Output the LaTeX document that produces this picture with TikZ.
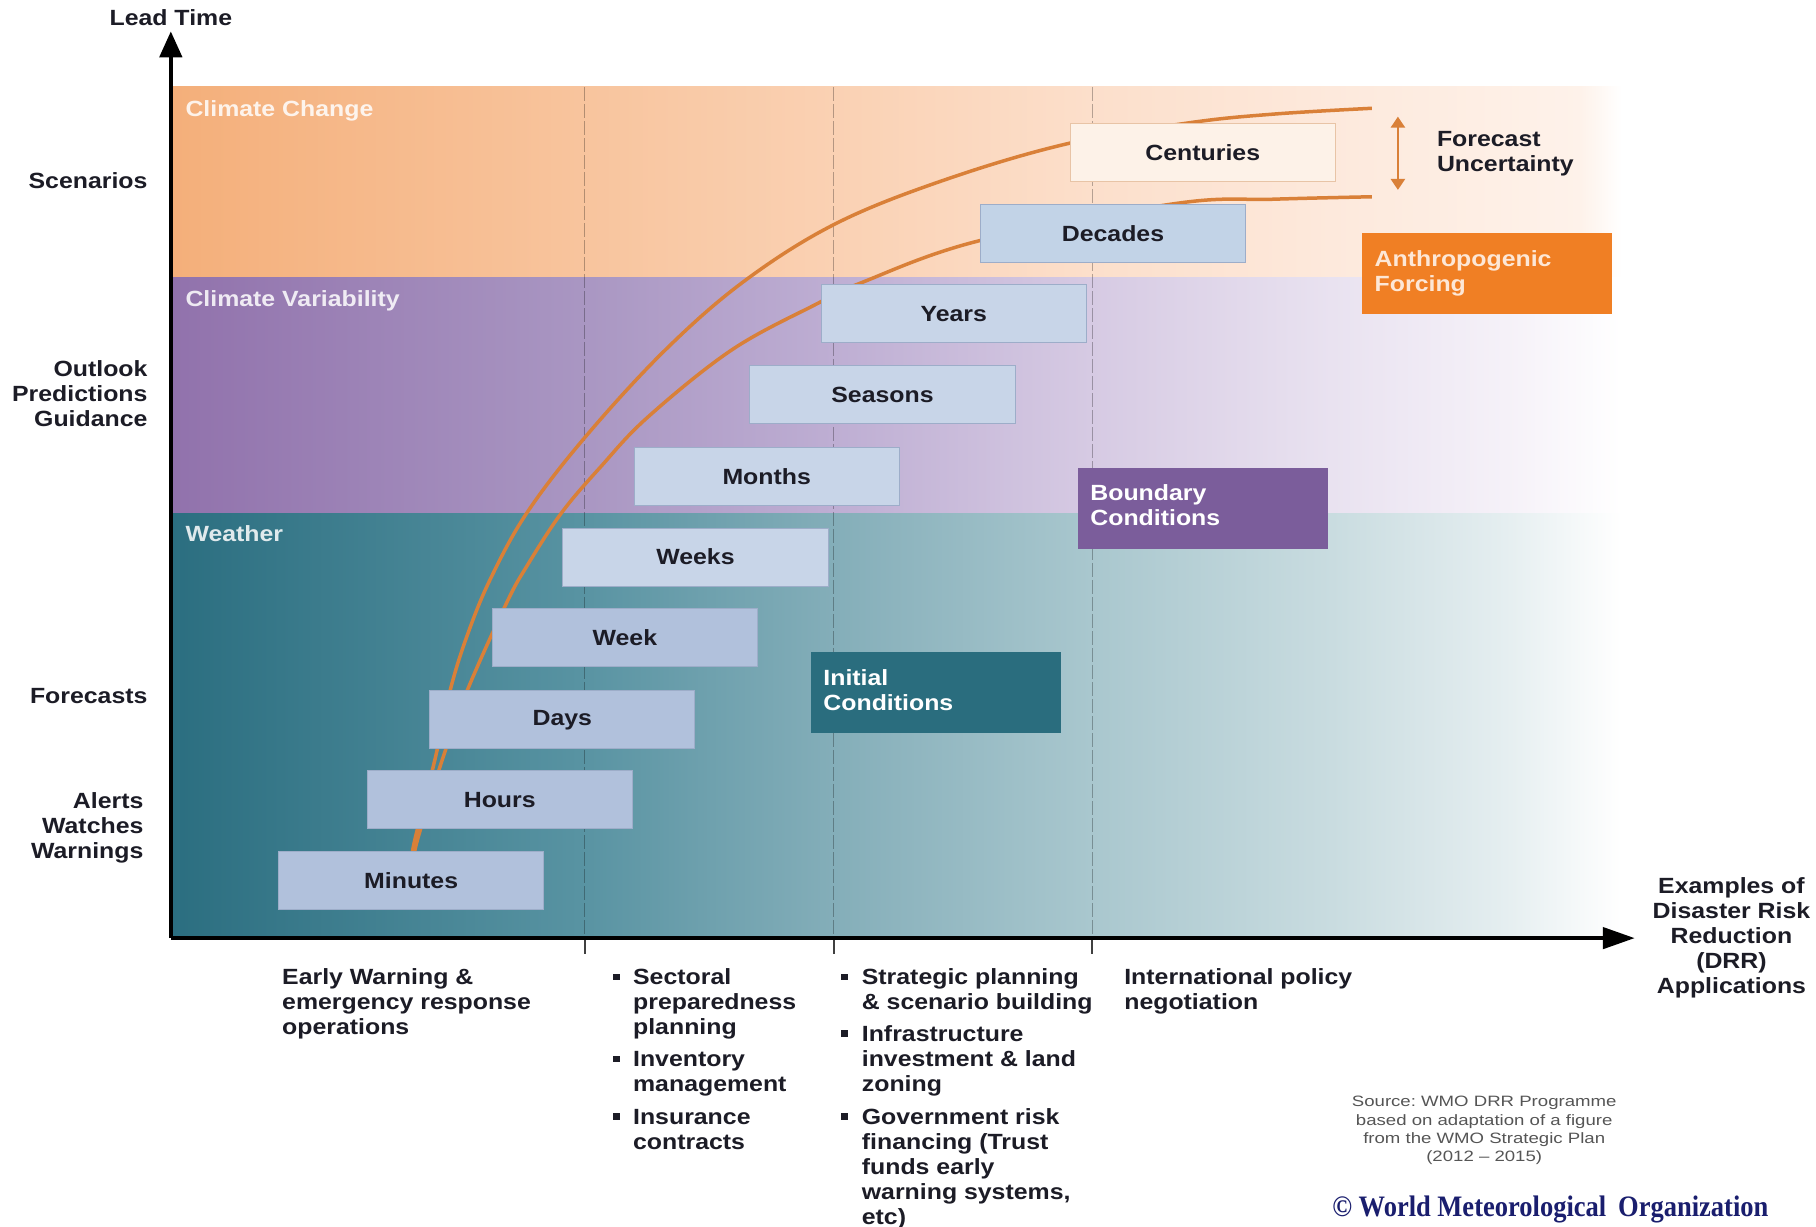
\documentclass[tikz,border=0pt]{standalone}
\usepackage{fontspec}
\setmainfont{Liberation Sans}[FakeStretch=1.13]
\newfontfamily\srcfont{Liberation Sans}[FakeStretch=1.24]
\newfontfamily\wmofont{Liberation Serif}
\usetikzlibrary{arrows.meta}
\frenchspacing

\definecolor{cc0}{HTML}{F4AF7A}
\definecolor{cc1}{HTML}{F8C49D}
\definecolor{cc2}{HTML}{FAD1B3}
\definecolor{cc3}{HTML}{FCDFCB}
\definecolor{cc4}{HTML}{FDE9DC}
\definecolor{cc5}{HTML}{FEF2EA}
\definecolor{cv0}{HTML}{9172AC}
\definecolor{cv1}{HTML}{A996C2}
\definecolor{cv2}{HTML}{BEAED3}
\definecolor{cv3}{HTML}{D6CAE3}
\definecolor{cv4}{HTML}{E9E2F0}
\definecolor{cv5}{HTML}{F5F1F8}
\definecolor{cw0}{HTML}{2B6E80}
\definecolor{cw1}{HTML}{5893A2}
\definecolor{cw2}{HTML}{84AEB9}
\definecolor{cw3}{HTML}{A9C7CE}
\definecolor{cw4}{HTML}{C9DCE0}
\definecolor{cw5}{HTML}{E5EEF0}
\definecolor{bxA}{HTML}{B1C1DC}
\definecolor{bxB}{HTML}{C8D5E8}
\definecolor{bxC}{HTML}{C2D3E7}
\definecolor{tbord}{HTML}{9DADC9}
\definecolor{cenfill}{HTML}{FDF2E8}
\definecolor{cenbord}{HTML}{E8C4A6}
\definecolor{icfill}{HTML}{2A6D7E}
\definecolor{bcfill}{HTML}{7B5D9B}
\definecolor{affill}{HTML}{F07F24}
\definecolor{curvec}{HTML}{D98038}
\definecolor{txt}{HTML}{1C1C26}
\definecolor{srcgray}{HTML}{555555}
\definecolor{navy}{HTML}{1A1E6E}

\pgfdeclarehorizontalshading{ccshade}{100bp}{color(0bp)=(cc0); color(25bp)=(cc0); color(39.06bp)=(cc1); color(47.84bp)=(cc2); color(56.71bp)=(cc3); color(65.02bp)=(cc4); color(73.6bp)=(cc5); color(75bp)=(white); color(100bp)=(white)}
\pgfdeclarehorizontalshading{cvshade}{100bp}{color(0bp)=(cv0); color(25bp)=(cv0); color(39.06bp)=(cv1); color(47.84bp)=(cv2); color(56.71bp)=(cv3); color(65.02bp)=(cv4); color(71bp)=(cv5); color(75bp)=(white); color(100bp)=(white)}
\pgfdeclarehorizontalshading{cwshade}{100bp}{color(0bp)=(cw0); color(25bp)=(cw0); color(39.06bp)=(cw1); color(47.84bp)=(cw2); color(56.71bp)=(cw3); color(65.02bp)=(cw4); color(71bp)=(cw5); color(75bp)=(white); color(100bp)=(white)}

\newcommand\mylab{\fontsize{22}{25}\selectfont\bfseries}

\begin{document}
\begin{tikzpicture}[x=1.15816pt, y=-1.15816pt,
  lbl/.style={inner sep=0pt, font=\mylab, text=txt},
  cat/.style={inner sep=0pt, font=\mylab, text=white, text opacity=0.85, anchor=base west},
  tbox/.style={draw=tbord, line width=1pt, minimum width=265.2pt, minimum height=57.9pt, inner sep=0pt, font=\mylab, text=txt},
  cbox/.style={minimum width=250.1pt, minimum height=81pt, inner xsep=12.7pt, inner ysep=0pt, text width=224.7pt, align=left, font=\mylab},
  guide/.style={draw=black, draw opacity=0.28, line width=1pt, dash pattern=on 14pt off 3pt},
  axisline/.style={line width=4.5pt, draw=black},
  curve/.style={draw=curvec, line width=3.5pt},
  bul/.style={fill=txt, minimum size=6.5pt, inner sep=0pt},
  tick/.style={draw=black!75, line width=1.5pt}]
\useasboundingbox (0,0) rectangle (1568,1058.6);
\fill[white] (0,0) rectangle (1568,1058.6);

% bands
\shade[shading=ccshade] (148,75) rectangle (1400,240);
\shade[shading=cvshade] (148,240) rectangle (1400,443);
\shade[shading=cwshade] (148,443) rectangle (1400,810);

% guide lines
\foreach \gx in {505,720,943} {
  \draw[guide] (\gx,75) -- (\gx,810);
  \draw[tick] (\gx,810) -- (\gx,823.8);
}

% category labels
\node[cat] (lcc) at (160,100.6) {Climate Change};
\node[cat] (lcv) at (160,265) {Climate Variability};
\node[cat] (lw) at (160,467.5) {Weather};

% curves
\draw[curve] plot[smooth, tension=0.6] coordinates {(355,745) (358.2,725) (375.5,656) (388.7,596) (403,549.8) (423,500.8) (454.8,443) (505.6,377) (574.6,302) (643.6,242) (722.6,192.6) (816.6,155) (922,124) (1027,106) (1100,98.5) (1184.5,93.5)};
\draw[curve] plot[smooth, tension=0.6] coordinates {(357,745) (360.5,725) (381.9,656) (403.5,596) (437.2,521) (454.6,489.3) (484.7,443) (518.7,403) (559.5,360) (632,302) (705,262.5) (743,244.4) (845,208) (1016,175.6) (1100,172) (1184.5,169.9)};

% time boxes
\node[tbox, fill=bxA] (minutes) at (355,760.6) {Minutes};
\node[tbox, fill=bxA] (hours) at (431.5,690.6) {Hours};
\node[tbox, fill=bxA] (days) at (485.5,621.6) {Days};
\node[tbox, fill=bxA] (week) at (539.5,550.6) {Week};
\node[tbox, fill=bxB] (weeks) at (600.5,481) {Weeks};
\node[tbox, fill=bxB] (months) at (662,411.5) {Months};
\node[tbox, fill=bxB] (seasons) at (762,341) {Seasons};
\node[tbox, fill=bxB] (years) at (823.5,271) {Years};
\node[tbox, fill=bxC] (decades) at (961,202) {Decades};
\node[tbox, fill=cenfill, draw=cenbord] (centuries) at (1038.5,132) {Centuries};

% coloured boxes
\node[cbox, fill=icfill, text=white] (initc) at (808,598) {\strut Initial\\\strut Conditions};
\node[cbox, fill=bcfill, text=white] (boundc) at (1038.5,439) {\strut Boundary\\\strut Conditions};
\node[cbox, fill=affill, text={rgb,255:red,253;green,231;blue,214}] (anthro) at (1284,236.5) {\strut Anthropogenic\\\strut Forcing};

% forecast uncertainty
\coordinate (ua) at (1207,100.7);
\coordinate (ub) at (1207,164);
\draw[draw=curvec, line width=2.5pt, {Triangle[length=11pt,width=14pt]}-{Triangle[length=11pt,width=14pt]}] (ua) -- (ub);
\node[lbl, anchor=north west, align=left] (fu) at (1240.6,111.5) {\strut Forecast\\\strut Uncertainty};

% axes
\coordinate (O) at (147.5,810);
\coordinate (ytip) at (147.5,27);
\coordinate (xtip) at (1411.6,810);
\draw[axisline, -{Triangle[length=26pt,width=22pt]}] (O) -- (ytip);
\draw[axisline, -{Triangle[length=32pt,width=21pt]}] (O) -- (xtip);
\node[lbl, anchor=base] (lt) at (147.5,22) {Lead Time};

% left labels
\node[lbl, anchor=base east] (scen) at (127.5,162.7) {Scenarios};
\node[lbl, anchor=north east, align=right] (opg) at (127.5,309.6) {\strut Outlook\\\strut Predictions\\\strut Guidance};
\node[lbl, anchor=base east] (fc) at (127.5,607.7) {Forecasts};
\node[lbl, anchor=north east, align=right] (aww) at (124,682.9) {\strut Alerts\\\strut Watches\\\strut Warnings};

% bottom texts
\node[lbl, anchor=north west, align=left] (c1) at (243.5,834.9) {\strut Early Warning \&\\\strut emergency response\\\strut operations};

\node[bul] (b21) at (532.5,843.4) {};
\node[lbl, anchor=north west, align=left] (c21) at (546.5,834.9) {\strut Sectoral\\\strut preparedness\\\strut planning};
\node[bul] (b22) at (532.5,914.4) {};
\node[lbl, anchor=north west, align=left] (c22) at (546.5,905.9) {\strut Inventory\\\strut management};
\node[bul] (b23) at (532.5,964) {};
\node[lbl, anchor=north west, align=left] (c23) at (546.5,955.5) {\strut Insurance\\\strut contracts};

\node[bul] (b31) at (729,843.4) {};
\node[lbl, anchor=north west, align=left] (c31) at (744,834.9) {\strut Strategic planning\\\strut \& scenario building};
\node[bul] (b32) at (729,892.4) {};
\node[lbl, anchor=north west, align=left] (c32) at (744,883.9) {\strut Infrastructure\\\strut investment \& land\\\strut zoning};
\node[bul] (b33) at (729,964) {};
\node[lbl, anchor=north west, align=left] (c33) at (744,955.5) {\strut Government risk\\\strut financing (Trust\\\strut funds early\\\strut warning systems,\\\strut etc)};

\node[lbl, anchor=north west, align=left] (c4) at (970.6,834.9) {\strut International policy\\\strut negotiation};

\node[lbl, anchor=north, align=center] (drr) at (1495,756.6) {\strut Examples of\\\strut Disaster Risk\\\strut Reduction\\\strut (DRR)\\\strut Applications};

\node[anchor=north, align=center, inner sep=0pt, font=\srcfont\fontsize{15}{18.3}\selectfont, text=srcgray] (src) at (1281.5,944.4) {\strut Source: WMO DRR Programme\\\strut based on adaptation of a figure\\\strut from the WMO Strategic Plan\\\strut (2012 – 2015)};

\node[anchor=base east, inner sep=0pt, font=\wmofont\fontsize{26.5}{30}\selectfont\bfseries, text=navy] (wmo) at (1527,1050) {\scalebox{1}[1.12]{© World Meteorological\hspace{0.45em}Organization}};
\end{tikzpicture}
\end{document}
